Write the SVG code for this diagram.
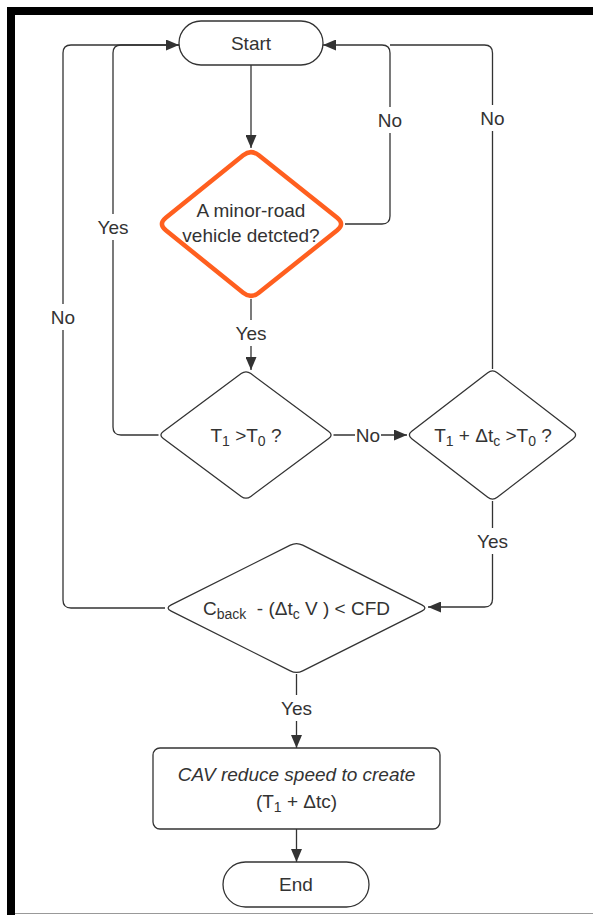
<svg xmlns="http://www.w3.org/2000/svg" width="593" height="915" viewBox="0 0 593 915">
<style>
  .ln{fill:none;stroke:#333;stroke-width:1.3}
  .shape{fill:#fff;stroke:#333;stroke-width:1.3}
  .orange{fill:#fff;stroke:#FF5F1F;stroke-width:4.5;stroke-linejoin:round}
  text{font-family:"Liberation Sans",Arial,sans-serif;font-size:19px;fill:#333;white-space:pre}
  .lbl{text-anchor:middle}
  .bg{fill:#fff}
</style>
<defs>
  <marker id="arr" markerUnits="userSpaceOnUse" markerWidth="13" markerHeight="11" refX="13" refY="5.5" orient="auto">
    <path d="M0,0 L13,5.5 L0,11 Z" fill="#333"/>
  </marker>
</defs>
<rect x="0" y="0" width="593" height="915" fill="#fff"/>
<rect x="7" y="7" width="8" height="908" fill="#000"/>
<rect x="7" y="7" width="586" height="8" fill="#000"/>
<line x1="15" y1="913.5" x2="593" y2="913.5" stroke="#999" stroke-width="1"/>

<g id="connectors">
  <path class="ln" d="M251,65 V148" marker-end="url(#arr)"/>
  <path class="ln" d="M345,224 H382 Q390,224 390,216 V53 Q390,45 382,45 H323" marker-end="url(#arr)"/>
  <path class="ln" d="M492.5,369 V53 Q492.5,45 484.5,45 H390"/>
  <path class="ln" d="M251,299 V370" marker-end="url(#arr)"/>
  <path class="ln" d="M158.5,435 H121 Q113,435 113,427 V53 Q113,45 121,45 H179" marker-end="url(#arr)"/>
  <path class="ln" d="M333.5,435 H407" marker-end="url(#arr)"/>
  <path class="ln" d="M492.5,501 V599 Q492.5,607 484.5,607 H428" marker-end="url(#arr)"/>
  <path class="ln" d="M165,608 H71 Q63,608 63,600 V53 Q63,45 71,45 H179"/>
  <path class="ln" d="M296.5,674 V748" marker-end="url(#arr)"/>
  <path class="ln" d="M296.5,829 V862" marker-end="url(#arr)"/>
  <rect class="bg" x="374" y="107" width="32" height="26"/>
  <text class="lbl" x="390" y="127">No</text>
  <rect class="bg" x="476" y="105" width="32" height="26"/>
  <text class="lbl" x="492.5" y="125">No</text>
  <rect class="bg" x="233" y="320" width="36" height="26"/>
  <text class="lbl" x="251" y="340">Yes</text>
  <rect class="bg" x="95" y="214" width="36" height="26"/>
  <text class="lbl" x="113" y="234">Yes</text>
  <rect class="bg" x="47" y="304" width="32" height="26"/>
  <text class="lbl" x="63" y="324">No</text>
  <rect class="bg" x="355" y="422" width="26" height="26"/>
  <text class="lbl" x="368" y="442">No</text>
  <rect class="bg" x="474" y="528" width="36" height="26"/>
  <text class="lbl" x="492.5" y="548">Yes</text>
  <rect class="bg" x="278" y="695" width="36" height="26"/>
  <text class="lbl" x="296.5" y="715">Yes</text>
</g>

<g id="start">
  <rect class="shape" x="179" y="21" width="144" height="44" rx="22" ry="22"/>
  <text class="lbl" x="251" y="50">Start</text>
</g>

<g id="minor-road">
  <path class="orange" d="M243.2,155.25 Q251,149 258.8,155.25 L337.2,217.75 Q345,224 337.2,230.25 L258.8,292.75 Q251,299 243.2,292.75 L165.8,230.25 Q158,224 165.8,217.75 Z"/>
  <text class="lbl" x="251" y="217">A minor-road</text>
  <text class="lbl" x="251" y="242">vehicle detcted?</text>
</g>

<g id="t1-gt-t0">
  <path class="shape" d="M241.2,373.6 Q246,370 250.8,373.6 L328.7,431.4 Q333.5,435 328.7,438.6 L250.8,496.4 Q246,500 241.2,496.4 L163.3,438.6 Q158.5,435 163.3,431.4 Z"/>
  <text class="lbl" x="246" y="442">T<tspan font-size="14" dy="4">1</tspan><tspan dy="-4"> &gt;T</tspan><tspan font-size="14" dy="4">0</tspan><tspan dy="-4"> ?</tspan></text>
</g>

<g id="t1-dtc-gt-t0">
  <path class="shape" d="M487.75,372.7 Q492.5,369 497.25,372.7 L573.25,431.3 Q578,435 573.25,438.7 L497.25,497.3 Q492.5,501 487.75,497.3 L411.75,438.7 Q407,435 411.75,431.3 Z"/>
  <text class="lbl" x="493" y="442">T<tspan font-size="14" dy="4">1</tspan><tspan dy="-4"> + Δt</tspan><tspan font-size="14" dy="4">c</tspan><tspan dy="-4"> &gt;T</tspan><tspan font-size="14" dy="4">0</tspan><tspan dy="-4"> ?</tspan></text>
</g>

<g id="cback">
  <path class="shape" d="M290.3,545.2 Q296.5,542 302.7,545.2 L421.8,604.8 Q428,608 421.8,611.2 L302.7,670.8 Q296.5,674 290.3,670.8 L171.2,611.2 Q165,608 171.2,604.8 Z"/>
  <text class="lbl" x="296.5" y="615">C<tspan font-size="14" dy="4">back</tspan><tspan dy="-4">  - (Δt</tspan><tspan font-size="14" dy="4">c</tspan><tspan dy="-4"> V ) &lt; CFD</tspan></text>
</g>

<g id="reduce-speed">
  <rect class="shape" x="153" y="748" width="287" height="81" rx="7" ry="7"/>
  <text class="lbl" x="296.5" y="781" font-style="italic">CAV reduce speed to create</text>
  <text class="lbl" x="296.5" y="808">(T<tspan font-size="14" dy="4">1</tspan><tspan dy="-4"> + Δtc)</tspan></text>
</g>

<g id="end">
  <rect class="shape" x="223" y="862" width="146" height="45" rx="22.5" ry="22.5"/>
  <text class="lbl" x="296" y="891">End</text>
</g>
</svg>
